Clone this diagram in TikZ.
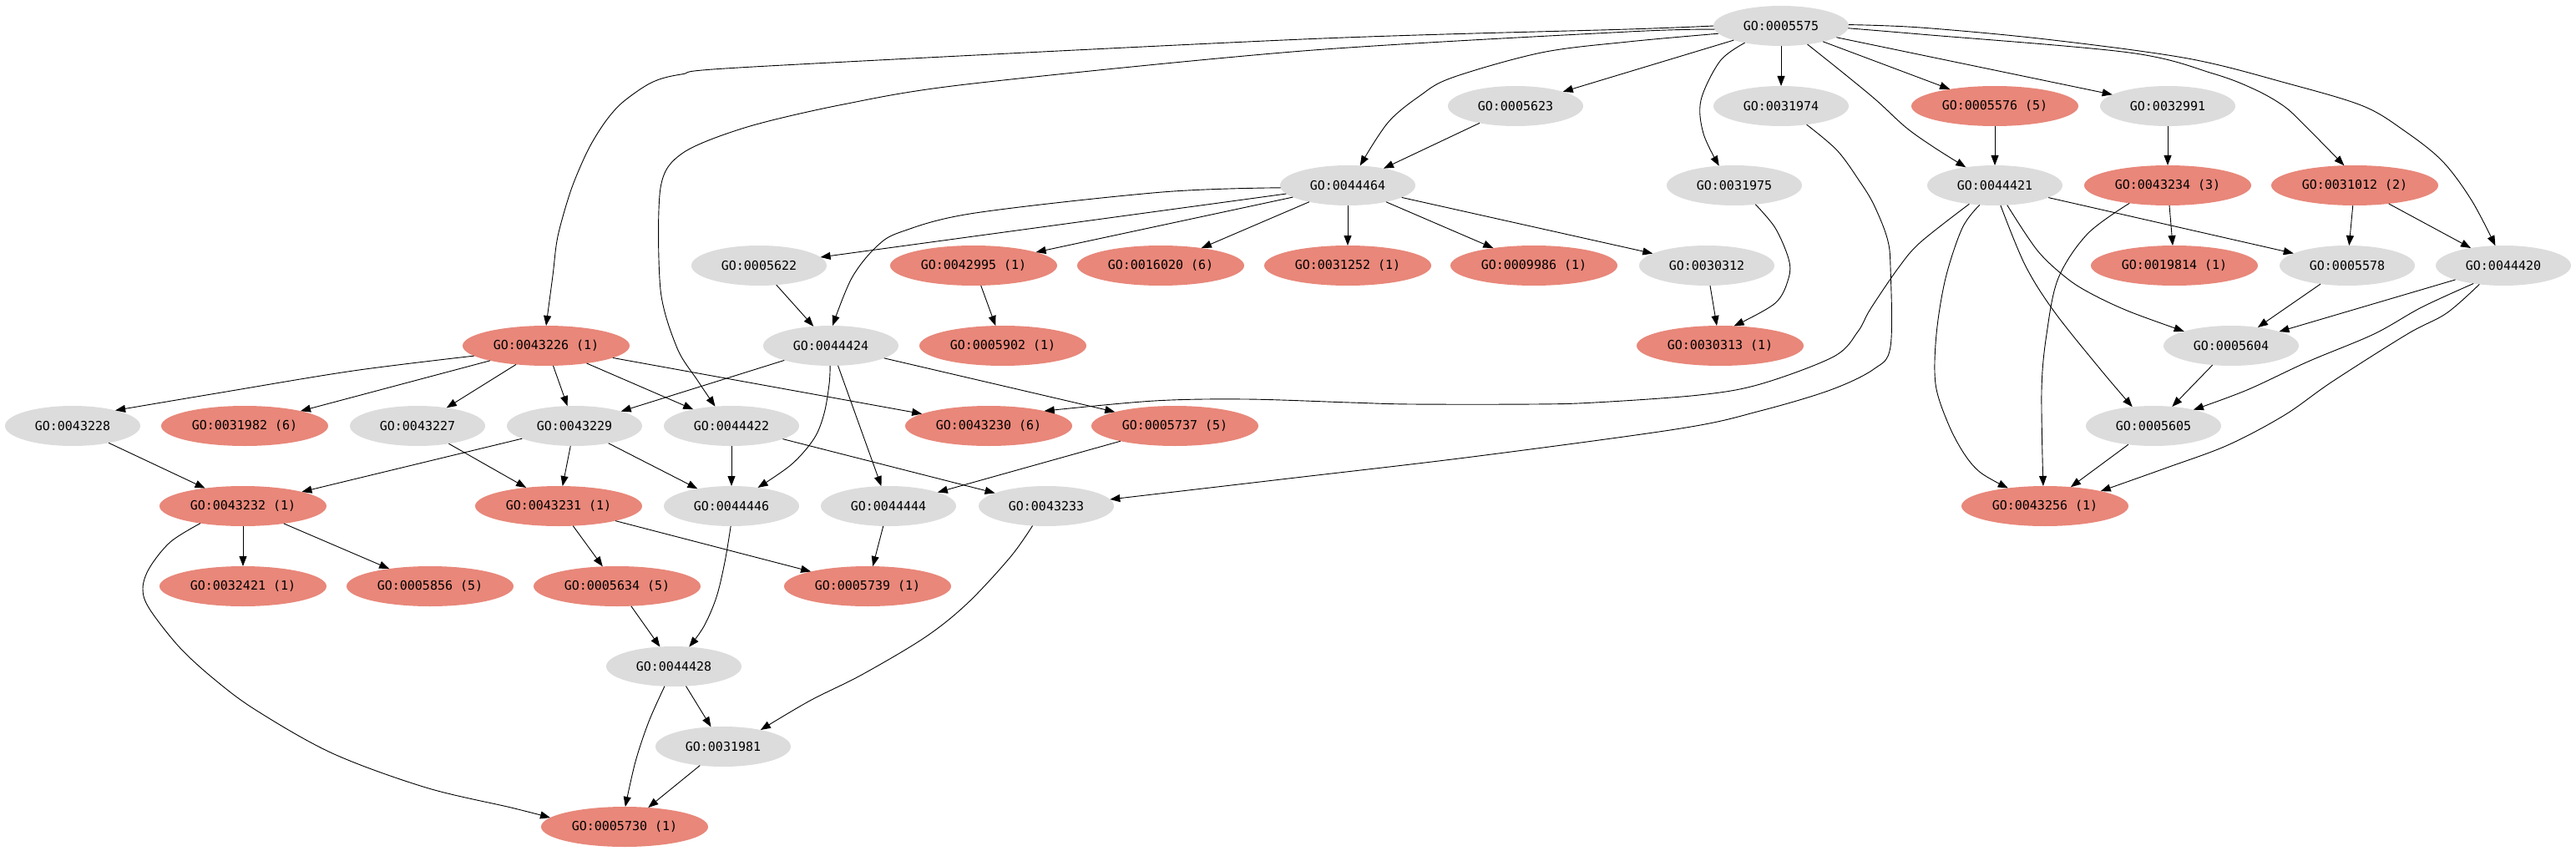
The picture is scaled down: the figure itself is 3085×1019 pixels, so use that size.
\documentclass[tikz,border=0pt]{standalone}
\usepackage{fontspec}
\newfontfamily\gofont{DejaVu Sans Mono}
\usetikzlibrary{shapes.geometric,arrows.meta}
\definecolor{gonode}{HTML}{DCDCDC}
\definecolor{hitnode}{HTML}{E8877A}
\begin{document}
\begin{tikzpicture}[x=1pt,y=-1pt,
 base/.style={ellipse, inner sep=0pt, outer sep=0pt, minimum height=48pt, font=\gofont\fontsize{15}{18}\selectfont, text=black},
 g/.style={base, fill=gonode, minimum width=162pt},
 r/.style={base, fill=hitnode, minimum width=200pt},
 e/.style={draw=black, line width=0.9pt, -{Triangle[length=12pt,width=9pt]}}]
\useasboundingbox (0,0) rectangle (3085,1019);
% row 0
\node[g] (n5575) at (2133,31) {GO:0005575};
% row 1
\node[g] (n5623) at (1815,127) {GO:0005623};
\node[g] (n31974) at (2133,127) {GO:0031974};
\node[r] (n5576) at (2389,127) {GO:0005576 (5)};
\node[g] (n32991) at (2596,127) {GO:0032991};
% row 2
\node[g] (n44464) at (1614,222) {GO:0044464};
\node[g] (n31975) at (2077,222) {GO:0031975};
\node[g] (n44421) at (2389,222) {GO:0044421};
\node[r] (n43234) at (2596,222) {GO:0043234 (3)};
\node[r] (n31012) at (2820,222) {GO:0031012 (2)};
% row 3
\node[g] (n5622) at (909,318) {GO:0005622};
\node[r] (n42995) at (1166,318) {GO:0042995 (1)};
\node[r] (n16020) at (1390,318) {GO:0016020 (6)};
\node[r] (n31252) at (1614,318) {GO:0031252 (1)};
\node[r] (n9986) at (1837,318) {GO:0009986 (1)};
\node[g] (n30312) at (2044,318) {GO:0030312};
\node[r] (n19814) at (2604,318) {GO:0019814 (1)};
\node[g] (n5578) at (2811,318) {GO:0005578};
\node[g] (n44420) at (2998,318) {GO:0044420};
% row 4
\node[r] (n43226) at (654,414) {GO:0043226 (1)};
\node[g] (n44424) at (995,414) {GO:0044424};
\node[r] (n5902) at (1201,414) {GO:0005902 (1)};
\node[r] (n30313) at (2060,414) {GO:0030313 (1)};
\node[g] (n5604) at (2672,414) {GO:0005604};
% row 5
\node[g] (n43228) at (87,510) {GO:0043228};
\node[r] (n31982) at (293,510) {GO:0031982 (6)};
\node[g] (n43227) at (500,510) {GO:0043227};
\node[g] (n43229) at (688,510) {GO:0043229};
\node[g] (n44422) at (876,510) {GO:0044422};
\node[r] (n43230) at (1184,510) {GO:0043230 (6)};
\node[r] (n5737) at (1407,510) {GO:0005737 (5)};
\node[g] (n5605) at (2579,510) {GO:0005605};
% row 6
\node[r] (n43232) at (291,606) {GO:0043232 (1)};
\node[r] (n43231) at (669,606) {GO:0043231 (1)};
\node[g] (n44446) at (876,606) {GO:0044446};
\node[g] (n44444) at (1064,606) {GO:0044444};
\node[g] (n43233) at (1253,606) {GO:0043233};
\node[r] (n43256) at (2449,606) {GO:0043256 (1)};
% row 7
\node[r] (n32421) at (291,702) {GO:0032421 (1)};
\node[r] (n5856) at (515,702) {GO:0005856 (5)};
\node[r] (n5634) at (739,702) {GO:0005634 (5)};
\node[r] (n5739) at (1039,702) {GO:0005739 (1)};
% rows 8-10
\node[g] (n44428) at (807,798) {GO:0044428};
\node[g] (n31981) at (866,894) {GO:0031981};
\node[r] (n5730) at (748,990) {GO:0005730 (1)};

% ---- edges from root
\draw[e] plot[smooth,tension=0.5] coordinates {(n5575.180) (1950,35) (1560,47) (902,80) (816,89) (780,99) (745,123) (724,147) (704,180) (684,227) (668,283) (662,330) (n43226.north)};
\draw[e] plot[smooth,tension=0.5] coordinates {(n5575.183) (1950,38) (1560,61) (1157,101) (1010,125) (895,152) (818,183) (791,225) (791,347) (811,417) (835,455) (n44422.130)};
\draw[e] plot[smooth,tension=0.55] coordinates {(n5575.187) (1950,50) (1846,63) (1739,93) (1700,115) (1662,147) (n44464.58)};
\draw[e] (n5575) -- (n5623);
\draw[e] plot[smooth,tension=0.55] coordinates {(n5575.205) (2060,73) (2037,120) (2040,160) (n31975.128)};
\draw[e] (n5575) -- (n31974);
\draw[e] plot[smooth,tension=0.55] coordinates {(n5575.-35) (2207,87) (2247,120) (2283,153) (2317,177) (n44421.148)};
\draw[e] (n5575) -- (n5576);
\draw[e] (n5575) -- (n32991);
\draw[e] plot[smooth,tension=0.55] coordinates {(n5575.-2) (2300,41) (2550,63) (2650,88) (2700,107) (2735,127) (2760,150) (n31012.118)};
\draw[e] plot[smooth,tension=0.55] coordinates {(n5575.1) (2300,33) (2450,47) (2620,70) (2740,100) (2830,127) (2880,157) (2925,193) (2960,240) (n44420.112)};
% ---- level 1
\draw[e] (n5623) -- (n44464);
\draw[e] plot[smooth,tension=0.55] coordinates {(n31974.-36) (2200,180) (2227,217) (2244,245) (2260,285) (2264,320) (2264,415) (2244,442) (2192,467) (2108,492) (2013,513) (1763,547) (1543,573) (n43233.6)};
\draw[e] (n5576) -- (n44421);
\draw[e] (n32991) -- (n43234);
% ---- level 2
\draw[e] plot[smooth,tension=0.55] coordinates {(n44464.182) (1392,230) (1168,255) (1081,277) (1050,295) (1020,333) (n44424.85)};
\draw[e] (n44464) -- (n5622);
\draw[e] (n44464) -- (n42995);
\draw[e] (n44464) -- (n16020);
\draw[e] (n44464) -- (n31252);
\draw[e] (n44464) -- (n9986);
\draw[e] (n44464) -- (n30312);
\draw[e] plot[smooth,tension=0.55] coordinates {(n31975.-42) (2126,273) (2142,310) (2142,333) (2126,363) (n30313.55)};
\draw[e] plot[smooth,tension=0.55] coordinates {(n44421.216) (2300,290) (2274,320) (2240,370) (2225,397) (2196,427) (2108,460) (2035,473) (1910,482) (1837,484) (1690,484) (1617,482) (1492,478) (1382,480) (n43230.15)};
\draw[e] plot[smooth,tension=0.55] coordinates {(n44421.232) (2350,273) (2330,333) (2319,400) (2318,460) (2333,507) (2352,543) (2372,566) (n43256.154)};
\draw[e] plot[smooth,tension=0.55] coordinates {(n44421.-74) (2425,317) (2460,373) (2516,443) (n5605.138)};
\draw[e] plot[smooth,tension=0.55] coordinates {(n44421.-58) (2440,300) (2475,333) (2505,352) (2550,373) (n5604.163)};
\draw[e] (n44421) -- (n5578);
\draw[e] (n43234) -- (n19814);
\draw[e] plot[smooth,tension=0.55] coordinates {(n43234.205) (2500,280) (2465,333) (2451,400) (2445,467) (n43256.95)};
\draw[e] (n31012) -- (n5578);
\draw[e] (n31012) -- (n44420);
% ---- level 3
\draw[e] (n5622) -- (n44424);
\draw[e] (n42995) -- (n5902);
\draw[e] (n30312) -- (n30313);
\draw[e] (n5578) -- (n5604);
\draw[e] (n44420) -- (n5604);
\draw[e] plot[smooth,tension=0.55] coordinates {(n44420.211) (2900,368) (2843,400) (2764,433) (2691,467) (n5605.22)};
\draw[e] plot[smooth,tension=0.55] coordinates {(n44420.218) (2930,375) (2883,400) (2793,457) (2736,497) (2668,533) (2595,560) (n43256.15)};
% ---- level 4
\draw[e] plot[smooth,tension=0.55] coordinates {(n43226.188) (423,444) (265,470) (n43228.20)};
\draw[e] (n43226) -- (n31982);
\draw[e] (n43226) -- (n43227);
\draw[e] (n43226) -- (n43229);
\draw[e] (n43226) -- (n44422);
\draw[e] (n43226) -- (n43230);
\draw[e] (n44424) -- (n43229);
\draw[e] plot[smooth,tension=0.55] coordinates {(n44424.268) (993,460) (987,495) (975,525) (948,556) (n44446.35)};
\draw[e] (n44424) -- (n44444);
\draw[e] (n44424) -- (n5737);
\draw[e] (n5604) -- (n5605);
% ---- level 5
\draw[e] (n43228) -- (n43232);
\draw[e] (n43227) -- (n43231);
\draw[e] (n43229) -- (n43232);
\draw[e] (n43229) -- (n43231);
\draw[e] (n43229) -- (n44446);
\draw[e] (n44422) -- (n44446);
\draw[e] (n44422) -- (n43233);
\draw[e] (n5737) -- (n44444);
\draw[e] (n5605) -- (n43256);
% ---- level 6
\draw[e] (n43232) -- (n32421);
\draw[e] (n43232) -- (n5856);
\draw[e] plot[smooth,tension=0.55] coordinates {(n43232.202) (204,649) (179,680) (171,705) (179,729) (214,774) (255,812) (306,850) (398,902) (510,943) (612,967) (n5730.173)};
\draw[e] (n43231) -- (n5634);
\draw[e] (n43231) -- (n5739);
\draw[e] plot[smooth,tension=0.55] coordinates {(n44446.268) (868,673) (858,715) (843,750) (n44428.52)};
\draw[e] (n44444) -- (n5739);
\draw[e] plot[smooth,tension=0.55] coordinates {(n43233.235) (1210,667) (1159,722) (1108,763) (1032,808) (970,839) (n31981.24)};
% ---- level 7+
\draw[e] (n5634) -- (n44428);
\draw[e] (n44428) -- (n31981);
\draw[e] plot[smooth,tension=0.55] coordinates {(n44428.245) (777,864) (761,912) (n5730.88)};
\draw[e] (n31981) -- (n5730);
\end{tikzpicture}
\end{document}
